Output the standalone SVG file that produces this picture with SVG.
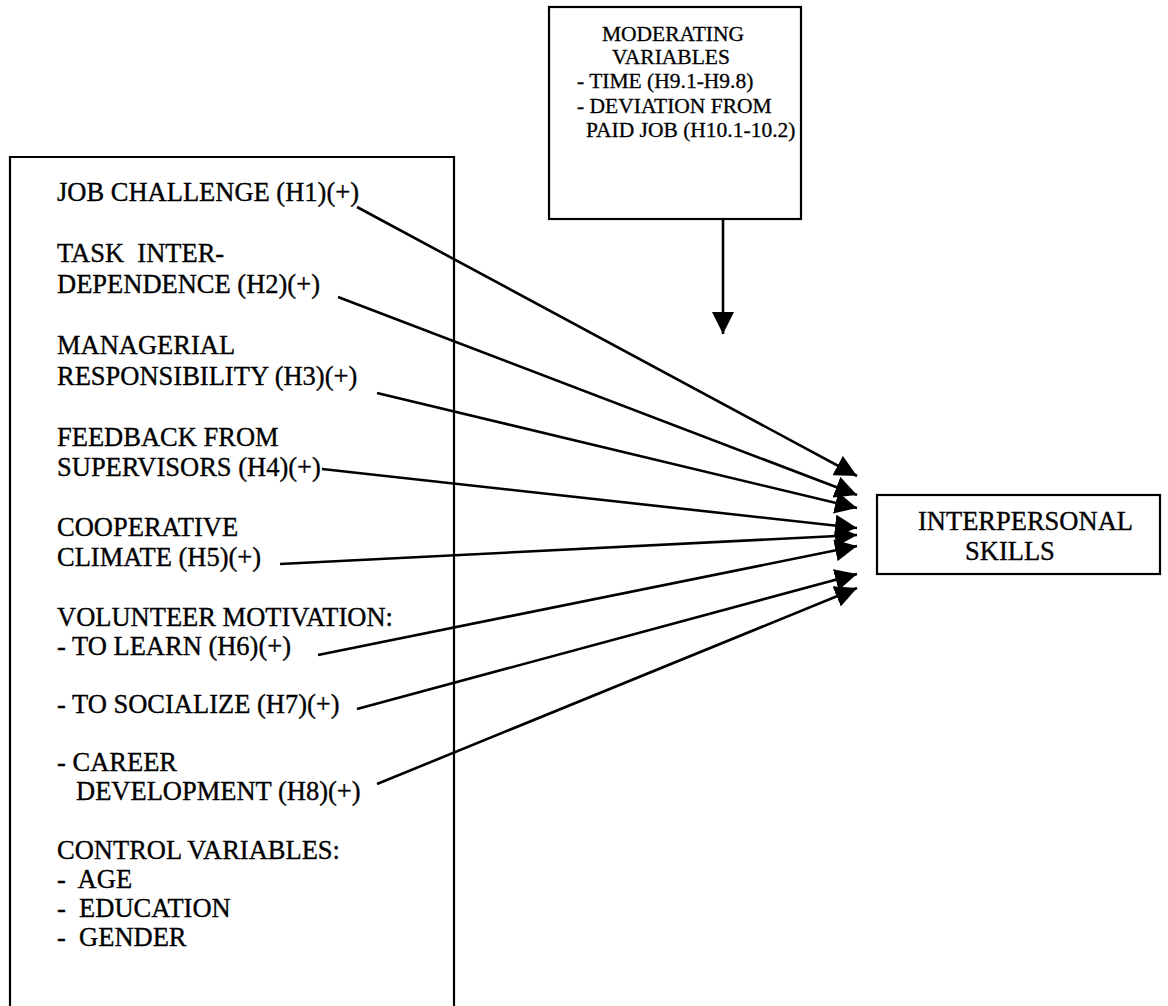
<svg xmlns="http://www.w3.org/2000/svg" width="1168" height="1006" viewBox="0 0 1168 1006">
<style>
.box{fill:none;stroke:#000;stroke-width:2.2}
.t{font-family:"Liberation Serif","Times New Roman",serif;font-size:26.5px;fill:#000;stroke:#000;stroke-width:0.35;white-space:pre}
.s{font-family:"Liberation Serif","Times New Roman",serif;font-size:21.5px;fill:#000;stroke:#000;stroke-width:0.3;white-space:pre}
.c{fill:none;stroke:#000;stroke-width:2.6;marker-end:url(#ah)}
</style>
<defs>
<marker id="ah" markerUnits="userSpaceOnUse" markerWidth="24" markerHeight="22" refX="22" refY="11" orient="auto" viewBox="0 0 24 22">
<path d="M0,0 L22,11 L0,22 Z" fill="#000"/>
</marker>
</defs>
<rect width="1168" height="1006" fill="#fff"/>
<g id="independent-variables">
<path class="box" d="M10,1010 V157 H454 V1010"/>
<text class="t" x="57" y="201">JOB CHALLENGE (H1)(+)</text>
<text class="t" x="57" y="262" xml:space="preserve">TASK  INTER-</text>
<text class="t" x="57" y="293">DEPENDENCE (H2)(+)</text>
<text class="t" x="57" y="354">MANAGERIAL</text>
<text class="t" x="57" y="385">RESPONSIBILITY (H3)(+)</text>
<text class="t" x="57" y="446">FEEDBACK FROM</text>
<text class="t" x="57" y="476">SUPERVISORS (H4)(+)</text>
<text class="t" x="57" y="536">COOPERATIVE</text>
<text class="t" x="57" y="566">CLIMATE (H5)(+)</text>
<text class="t" x="57" y="626">VOLUNTEER MOTIVATION:</text>
<text class="t" x="57" y="655">- TO LEARN (H6)(+)</text>
<text class="t" x="57" y="713">- TO SOCIALIZE (H7)(+)</text>
<text class="t" x="57" y="771">- CAREER</text>
<text class="t" x="76" y="800">DEVELOPMENT (H8)(+)</text>
<text class="t" x="57" y="859">CONTROL VARIABLES:</text>
<text class="t" x="57" y="888" xml:space="preserve">-  AGE</text>
<text class="t" x="57" y="917" xml:space="preserve">-  EDUCATION</text>
<text class="t" x="57" y="946" xml:space="preserve">-  GENDER</text>
</g>
<g id="moderating-variables">
<rect class="box" x="549" y="7" width="252" height="212"/>
<text class="s" x="673" y="41" text-anchor="middle">MODERATING</text>
<text class="s" x="671" y="64" text-anchor="middle">VARIABLES</text>
<text class="s" x="577" y="88">- TIME (H9.1-H9.8)</text>
<text class="s" x="577" y="113">- DEVIATION FROM</text>
<text class="s" x="586" y="137">PAID JOB (H10.1-10.2)</text>
</g>
<g id="interpersonal-skills">
<rect class="box" x="877" y="495" width="283" height="79"/>
<text class="t" x="918" y="530">INTERPERSONAL</text>
<text class="t" x="965" y="560">SKILLS</text>
</g>
<g id="connectors">
<path class="c" d="M723,219 V334"/>
<path class="c" d="M357,207 L857,476"/>
<path class="c" d="M338,297 L857,495"/>
<path class="c" d="M377,393 L857,508"/>
<path class="c" d="M322,469 L857,528"/>
<path class="c" d="M280,564 L857,535"/>
<path class="c" d="M318,655 L857,546"/>
<path class="c" d="M357,709 L857,574"/>
<path class="c" d="M377,784 L857,588"/>
</g>
</svg>
